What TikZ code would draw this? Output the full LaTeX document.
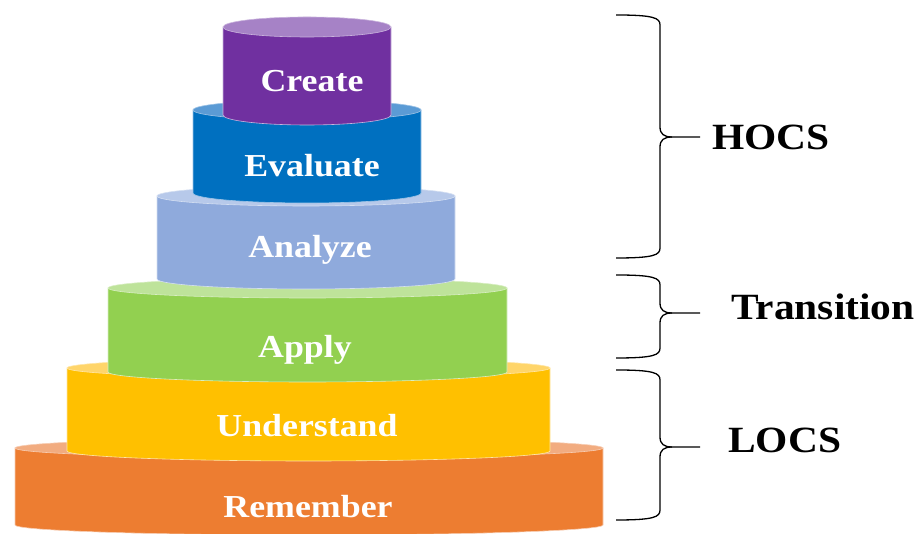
\documentclass[tikz,border=0pt]{standalone}
\usepackage{fontspec}
\setmainfont{Liberation Serif}
\usepackage{tikz}
\usetikzlibrary{arrows, arrows.meta}

\definecolor{remSide}{HTML}{ED7D31}
\definecolor{remTop}{HTML}{F2AC80}
\definecolor{undSide}{HTML}{FFC000}
\definecolor{undTop}{HTML}{FFD56A}
\definecolor{appSide}{HTML}{92D050}
\definecolor{appTop}{HTML}{BEE39A}
\definecolor{anaSide}{HTML}{8FAADC}
\definecolor{anaTop}{HTML}{B7C9EA}
\definecolor{evaSide}{HTML}{0070C0}
\definecolor{evaTop}{HTML}{5B9BD5}
\definecolor{creSide}{HTML}{7030A0}
\definecolor{creTop}{HTML}{A682C6}

% #1 centre x, #2 x radius, #3 top y, #4 bottom y, #5 side colour, #6 top colour
\newcommand{\tier}[6]{%
  \path[fill=#5, draw=#6!60!white, line width=.6pt]
    (#1-#2,#3) -- (#1-#2,#4)
    arc[start angle=180, end angle=360, x radius=#2, y radius=10]
    -- (#1+#2,#3) -- cycle;
  \path[fill=#6, draw=#6!60!white, line width=.6pt]
    (#1,#3) ellipse[x radius=#2, y radius=10];
}

% #1 top y, #2 middle y, #3 bottom y
\newcommand{\bracket}[3]{%
  \draw[line width=1.3pt]
    (616,#1) .. controls (654,#1) and (660,#1-3) .. (660,#1-10)
    -- (660,#2+10) .. controls (660,#2+3) and (664,#2) .. (672,#2)
    -- (700,#2);
  \draw[line width=1.3pt]
    (672,#2) .. controls (664,#2) and (660,#2-3) .. (660,#2-10)
    -- (660,#3+10) .. controls (660,#3+3) and (654,#3) .. (616,#3);
}

\begin{document}
\begin{tikzpicture}[x=1pt, y=1pt]
\tikzstyle{tiertext}=[anchor=base, text=white, xscale=1.12, inner sep=0pt,
  font=\fontsize{32}{32}\selectfont\bfseries]
\tikzstyle{grouptext}=[anchor=base west, text=black, xscale=1.12, inner sep=0pt,
  font=\fontsize{37}{37}\selectfont\bfseries]
\useasboundingbox (0,0) rectangle (923,534);

\tier{309}{294}{86}{9}{remSide}{remTop}
\tier{308.5}{241.5}{166}{83}{undSide}{undTop}
\tier{307.5}{199.5}{246}{162}{appSide}{appTop}
\tier{306}{149}{338}{255}{anaSide}{anaTop}
\tier{307}{114}{424}{341}{evaSide}{evaTop}
\tier{307}{84}{507}{419}{creSide}{creTop}

\node[tiertext] (remember) at (308,16) {Remember};
\node[tiertext] (understand) at (307,97) {Understand};
\node[tiertext] (apply) at (305,176) {Apply};
\node[tiertext] (analyze) at (310,276) {Analyze};
\node[tiertext] (evaluate) at (312,357) {Evaluate};
\node[tiertext] (create) at (312,442) {Create};

\bracket{519}{397}{276}
\bracket{259}{221}{176}
\bracket{164}{87}{14}

\node[grouptext] (hocs) at (712,384) {HOCS};
\node[grouptext] (transition) at (731,214) {Transition};
\node[grouptext] (locs) at (728,81) {LOCS};

\end{tikzpicture}
\end{document}
